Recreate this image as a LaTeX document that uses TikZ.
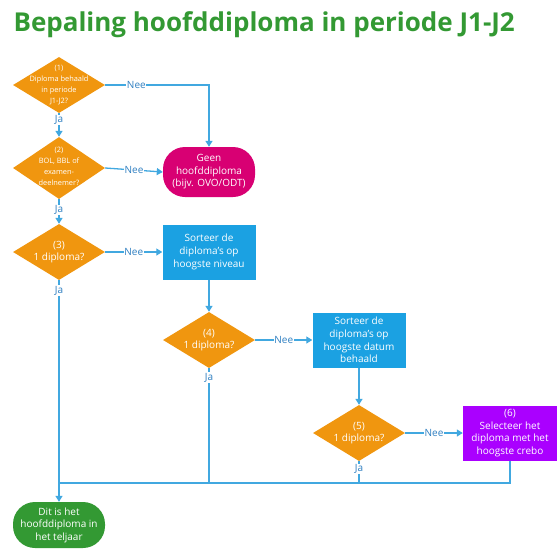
\documentclass[tikz,border=0pt]{standalone}
\usepackage{fontspec}
\setmainfont{Open Sans}
\usepackage{tikz}
\usetikzlibrary{shapes.geometric, arrows.meta, positioning, calc}
\definecolor{hdorange}{HTML}{F0960F}
\definecolor{hdblue}{HTML}{1BA1E2}
\definecolor{hdmagenta}{HTML}{D80073}
\definecolor{hdpurple}{HTML}{AA00FF}
\definecolor{hdgreen}{HTML}{339933}
\definecolor{hdline}{HTML}{41A8E0}
\definecolor{hdlabel}{HTML}{2F7FC1}
\tikzset{
  decision/.style={diamond, fill=hdorange, minimum width=92pt,
    minimum height=56pt, inner sep=0pt},
  dtext/.style={text=white, align=center, font=\fontsize{7.4}{10.8}\selectfont},
  dtextbig/.style={text=white, align=center, font=\fontsize{10}{12.5}\selectfont},
  process/.style={rectangle, fill=hdblue, text=white, align=center,
    minimum width=93pt, minimum height=55pt, inner sep=1pt,
    font=\fontsize{10}{12.8}\selectfont},
  terminal/.style={rectangle, rounded corners=22pt, text=white, align=center,
    minimum width=92pt, inner sep=1pt, font=\fontsize{10}{12.5}\selectfont},
  lbl/.style={fill=white, text=hdlabel, inner sep=0.6pt, font=\fontsize{10}{12}\selectfont},
  ln/.style={draw=hdline, line width=1.3pt},
  ar/.style={ln, -{Triangle[length=6pt, width=7pt]}},
}

\begin{document}
\begin{tikzpicture}[x=1pt, y=-1pt]
  \useasboundingbox (0,0) rectangle (559,552);

  % --- Titel ---
  \node[anchor=west, text=hdgreen, font=\bfseries\fontsize{26}{30}\selectfont]
        (title) at (10,25) {Bepaling hoofddiploma in periode J1-J2};

  % --- Beslissingen ---
  \node[decision, label={[dtext]center:{(1)\\Diploma behaald\\in periode\\J1-J2?}}]
        (q1) at (59,85) {};
  \node[decision, minimum height=62pt,
        label={[dtext, yshift=1.5pt]center:{(2)\\BOL, BBL of\\examen-\\deelnemer?}}]
        (q2) at (59,168) {};
  \node[decision, label={[dtextbig]center:{(3)\\1 diploma?}}]
        (q3) at (59,252) {};
  \node[decision, label={[dtextbig]center:{(4)\\1 diploma?}}]
        (q4) at (209,340) {};
  \node[decision, label={[dtextbig]center:{(5)\\1 diploma?}}]
        (q5) at (359,433) {};

  % --- Acties ---
  \node[terminal, fill=hdmagenta, minimum height=50pt] (geen) at (209,172)
        {Geen\\hoofddiploma\\(bijv. OVO/ODT)};
  \node[process] (sort1) at (209,252) {Sorteer de\\diploma's op\\hoogste niveau};
  \node[process] (sort2) at (359,340) {Sorteer de\\diploma's op\\hoogste datum\\behaald};
  \node[process, fill=hdpurple, minimum width=94pt] (sel) at (510,433)
        {(6)\\Selecteer het\\diploma met het\\hoogste crebo};
  \node[terminal, fill=hdgreen, minimum height=46pt] (res) at (59,525)
        {Dit is het\\hoofddiploma in\\het teljaar};

  % --- Nee ---
  \draw[ar] (q1.east) -| node[lbl, pos=0.15]{Nee} (geen.north);
  \draw[ar] (q2.east) -- node[lbl]{Nee} (geen.west);
  \draw[ar] (q3.east) -- node[lbl]{Nee} (sort1.west);
  \draw[ar] (q4.east) -- node[lbl]{Nee} (sort2.west);
  \draw[ar] (q5.east) -- node[lbl]{Nee} (sel.west);

  % --- Ja ---
  \draw[ar] (q1.south) -- node[lbl, pos=0.3]{Ja} (q2.north);
  \draw[ar] (q2.south) -- node[lbl, pos=0.45]{Ja} (q3.north);
  \draw[ar] (sort1.south) -- (q4.north);
  \draw[ar] (sort2.south) -- (q5.north);

  % --- samenkomen boven eindpunt ---
  \coordinate (jn) at (59,483);
  \draw[ar] (q3.south) -- node[lbl, pos=0.02, anchor=north]{Ja} (res.north);
  \draw[ln] (q4.south) -- node[lbl, pos=0.03, anchor=north]{Ja} (q4 |- jn);
  \draw[ln] (q5.south) -- node[lbl, pos=0.1, anchor=north]{Ja} (q5 |- jn);
  \draw[ln] (sel.south) |- (jn);

\end{tikzpicture}
\end{document}
